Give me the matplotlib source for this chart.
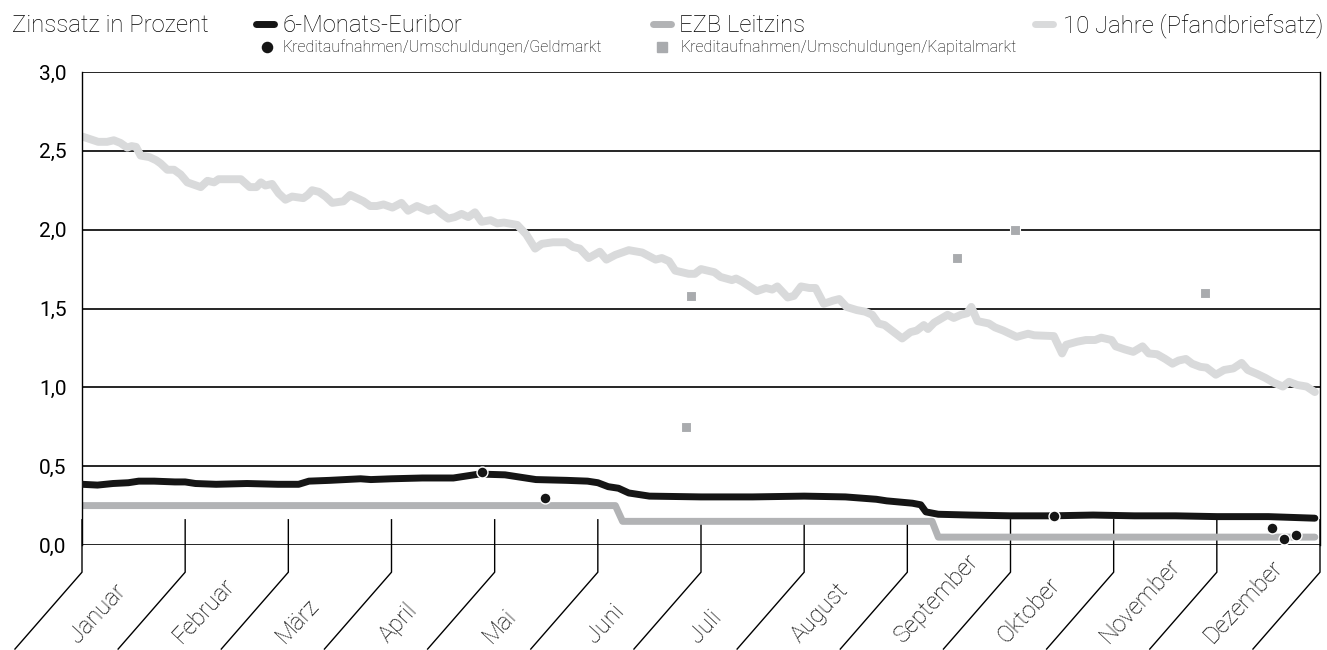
import math
import matplotlib
matplotlib.use("Agg")
import matplotlib.pyplot as plt
from matplotlib.lines import Line2D
from matplotlib import font_manager
import matplotlib.transforms as mtransforms

# ---------------- data ----------------
months = ["Januar", "Februar", "März", "April", "Mai", "Juni", "Juli",
          "August", "September", "Oktober", "November", "Dezember"]
yticks = [0.0, 0.5, 1.0, 1.5, 2.0, 2.5, 3.0]
ytick_labels = ["0,0", "0,5", "1,0", "1,5", "2,0", "2,5", "3,0"]

# x in months (0 = 1. Januar, 12 = 31. Dezember)
euribor_x = [0.0, 0.15, 0.3, 0.45, 0.55, 0.7, 0.9, 1.0, 1.1, 1.3, 1.6, 1.9, 2.1, 2.2,
             2.4, 2.7, 2.8, 3.0, 3.3, 3.6, 3.75, 3.85, 4.1, 4.25, 4.4, 4.7, 4.9, 5.0,
             5.1, 5.2, 5.3, 5.5, 6.0, 6.5, 7.0, 7.4, 7.7, 7.8, 8.05, 8.13, 8.18, 8.3,
             8.6, 9.0, 9.4, 9.8, 10.2, 10.6, 11.0, 11.5, 11.95]
euribor_y = [0.385, 0.38, 0.39, 0.395, 0.405, 0.405, 0.40, 0.40, 0.39, 0.385, 0.39,
             0.385, 0.385, 0.405, 0.41, 0.42, 0.415, 0.42, 0.425, 0.425, 0.44, 0.45,
             0.445, 0.43, 0.415, 0.41, 0.405, 0.395, 0.37, 0.36, 0.33, 0.31, 0.305,
             0.305, 0.31, 0.305, 0.29, 0.28, 0.265, 0.255, 0.21, 0.195, 0.19, 0.185,
             0.185, 0.19, 0.185, 0.185, 0.18, 0.18, 0.17]

ezb_x = [0.0, 5.17, 5.24, 8.24, 8.30, 11.95]
ezb_y = [0.25, 0.25, 0.15, 0.15, 0.05, 0.05]

pfand_x = [0.006, 0.157, 0.243, 0.308, 0.373, 0.438, 0.481, 0.524, 0.568, 0.654,
           0.719, 0.762, 0.827, 0.892, 0.956, 1.021, 1.108, 1.151, 1.216, 1.280,
           1.324, 1.540, 1.626, 1.691, 1.734, 1.777, 1.842, 1.907, 1.972, 2.037,
           2.145, 2.188, 2.231, 2.296, 2.361, 2.426, 2.534, 2.599, 2.663, 2.728,
           2.793, 2.858, 2.923, 3.009, 3.096, 3.161, 3.247, 3.355, 3.420, 3.485,
           3.550, 3.614, 3.679, 3.744, 3.809, 3.874, 3.960, 4.025, 4.090, 4.219,
           4.306, 4.392, 4.457, 4.565, 4.695, 4.760, 4.825, 4.911, 5.019, 5.083,
           5.170, 5.300, 5.430, 5.56, 5.62, 5.69, 5.75, 5.88, 5.94, 6.0, 6.13, 6.19,
           6.30, 6.34, 6.40, 6.54, 6.63, 6.69, 6.74, 6.84, 6.90, 6.97, 7.05, 7.11,
           7.19, 7.28, 7.34, 7.41, 7.51, 7.59, 7.66, 7.72, 7.78, 7.87, 7.95, 8.03,
           8.09, 8.16, 8.20, 8.26, 8.39, 8.45, 8.52, 8.58, 8.62, 8.68, 8.79, 8.85,
           8.93, 9.06, 9.17, 9.23, 9.42, 9.50, 9.54, 9.65, 9.73, 9.82, 9.88, 9.98,
           10.02, 10.11, 10.19, 10.28, 10.34, 10.42, 10.50, 10.57, 10.63, 10.70,
           10.76, 10.84, 10.90, 10.99, 11.07, 11.16, 11.24, 11.30, 11.39, 11.47,
           11.55, 11.64, 11.70, 11.78, 11.87, 11.95]
pfand_y = [2.59, 2.557, 2.557, 2.567, 2.55, 2.52, 2.53, 2.525, 2.47, 2.46,
           2.44, 2.42, 2.38, 2.38, 2.35, 2.30, 2.28, 2.27, 2.31, 2.30,
           2.32, 2.32, 2.27, 2.27, 2.30, 2.28, 2.29, 2.23, 2.19, 2.21,
           2.20, 2.22, 2.25, 2.24, 2.21, 2.17, 2.18, 2.22, 2.20, 2.18,
           2.15, 2.15, 2.16, 2.14, 2.17, 2.12, 2.15, 2.12, 2.135, 2.10,
           2.07, 2.08, 2.10, 2.08, 2.11, 2.05, 2.06, 2.04, 2.045, 2.03,
           1.97, 1.88, 1.91, 1.92, 1.92, 1.89, 1.88, 1.82, 1.86, 1.81,
           1.84, 1.87, 1.855, 1.81, 1.82, 1.80, 1.74, 1.72, 1.72, 1.75, 1.73, 1.70,
           1.68, 1.69, 1.67, 1.61, 1.63, 1.62, 1.64, 1.57, 1.58, 1.64, 1.63, 1.63,
           1.53, 1.55, 1.56, 1.51, 1.49, 1.48, 1.46, 1.405, 1.395, 1.35, 1.31, 1.35,
           1.36, 1.395, 1.37, 1.41, 1.46, 1.44, 1.46, 1.47, 1.51, 1.42, 1.405, 1.38,
           1.36, 1.32, 1.34, 1.33, 1.325, 1.215, 1.27, 1.29, 1.30, 1.30, 1.315, 1.30,
           1.26, 1.24, 1.225, 1.26, 1.215, 1.21, 1.18, 1.15, 1.17, 1.18,
           1.15, 1.13, 1.125, 1.08, 1.11, 1.12, 1.155, 1.11, 1.085, 1.06,
           1.03, 1.005, 1.035, 1.015, 1.005, 0.97]

geld_x = [3.88, 4.49, 9.42, 11.53, 11.65, 11.77]
geld_y = [0.465, 0.30, 0.185, 0.107, 0.035, 0.065]

kapital_x = [5.85, 5.90, 8.48, 9.04, 10.89]
kapital_y = [0.75, 1.58, 1.82, 2.00, 1.60]

# ---------------- font ----------------
fonts = font_manager.fontManager.ttflist
def has_light(name):
    for f in fonts:
        if f.name == name:
            w = f.weight
            if isinstance(w, str):
                if w.lower() in ("light", "extra light", "ultralight", "thin"):
                    return True
            elif w <= 300:
                return True
    return False

FAM, WEIGHT = "Liberation Sans", "normal"
for cand in ["Roboto", "Inter", "Lato", "Open Sans", "Noto Sans"]:
    if has_light(cand):
        FAM, WEIGHT = cand, "light"
        break
plt.rcParams['font.family'] = [FAM, 'DejaVu Sans']
plt.rcParams['font.weight'] = WEIGHT

C_EUR = "#151515"
C_EZB = "#b2b3b5"
C_PF = "#d9dadb"
C_SQ = "#a9abae"

W, H = 1327, 650
fig = plt.figure(figsize=(W / 100, H / 100), dpi=100)
left, right, top, bottom = 82, 1320, 72, 545
ax = fig.add_axes([left / W, 1 - bottom / H, (right - left) / W, (bottom - top) / H])
ax.set_xlim(0, 12)
ax.set_ylim(0, 3.0)

for v in yticks:
    ax.axhline(v, color="black", lw=1.2, zorder=1)
for s in ["left", "right"]:
    ax.spines[s].set_linewidth(1.0)
for s in ["top", "bottom"]:
    ax.spines[s].set_visible(False)

ax.set_yticks(yticks)
ax.set_yticklabels(ytick_labels, fontsize=15, fontweight="normal")
ax.tick_params(axis="y", length=0, pad=11)
ax.set_xticks([])

ax.plot(ezb_x, ezb_y, color=C_EZB, lw=5, solid_capstyle="round", solid_joinstyle="round", zorder=2)
ax.plot(pfand_x, pfand_y, color=C_PF, lw=5.7, solid_capstyle="round", solid_joinstyle="round", zorder=2)
ax.plot(euribor_x, euribor_y, color=C_EUR, lw=5, solid_capstyle="round", solid_joinstyle="round", zorder=3)
ax.scatter(kapital_x, kapital_y, marker="s", s=52, color=C_SQ, edgecolors="white", linewidths=0.8, zorder=4)
ax.scatter(geld_x, geld_y, marker="o", s=62, color=C_EUR, edgecolors="white", linewidths=1.0, zorder=5)

# month separators: vertical tick, then a slanted line
SLANT_DX, Y_KNEE, Y_END = -0.65, -0.1725, -0.66
for m in range(13):
    ax.plot([m, m, m + SLANT_DX], [0.16, Y_KNEE, Y_END], color="black", lw=1.0,
            clip_on=False, zorder=1)

# month labels: centred on the middle line of each slanted band,
# with the start of the text resting near the bottom edge
renderer = fig.canvas.get_renderer()
ROT = 47.0
FS_MONTH = 17
px_per_month = ax.transData.transform((1, 0))[0] - ax.transData.transform((0, 0))[0]
knee_disp = ax.transData.transform((0, Y_KNEE))[1]
end_disp = ax.transData.transform((0, Y_END))[1]
slope = (SLANT_DX * px_per_month) / (end_disp - knee_disp)   # dx per dy (display)
base_y = 5.0  # display y (pixels from bottom) of the start of the text
for i, name in enumerate(months):
    t = fig.text(0, 0, name, fontsize=FS_MONTH)
    L = t.get_window_extent(renderer).width
    t.remove()
    th = math.radians(ROT)
    hcap = 0.72 * FS_MONTH * 100 / 72
    yc = base_y + (L / 2) * math.sin(th) + (hcap / 2) * math.cos(th)
    x_mid = ax.transData.transform((i + 0.5, 0))[0]
    xc = x_mid + (yc - knee_disp) * slope
    fig.text(xc, yc, name, fontsize=FS_MONTH, rotation=ROT, ha="center", va="center",
             rotation_mode="anchor", transform=mtransforms.IdentityTransform())

# ---------------- legend ----------------
def fy(py):
    return 1 - py / H

def fx(px):
    return px / W

FS_LEG = 17.2
fig.text(fx(12), fy(32.3), "Zinssatz in Prozent", fontsize=FS_LEG, va="baseline", ha="left")
legend_lines = [(253, 283, "6-Monats-Euribor", C_EUR), (650, 679, "EZB Leitzins", C_EZB),
                (1032, 1063, "10 Jahre (Pfandbriefsatz)", C_PF)]
for x0, xt, label, col in legend_lines:
    fig.add_artist(Line2D([fx(x0 + 3), fx(x0 + 21)], [fy(24), fy(24)], color=col, lw=5,
                          solid_capstyle="round", transform=fig.transFigure))
    fig.text(fx(xt), fy(32.3), label, fontsize=FS_LEG, va="baseline", ha="left")

fig.add_artist(Line2D([fx(267)], [fy(46.5)], marker="o", markersize=7.3, color=C_EUR,
                      linestyle="none", transform=fig.transFigure))
fig.text(fx(283), fy(52), "Kreditaufnahmen/Umschuldungen/Geldmarkt", fontsize=11.5,
         va="baseline", ha="left")
fig.add_artist(Line2D([fx(662)], [fy(46.5)], marker="s", markersize=7, color=C_SQ,
                      linestyle="none", transform=fig.transFigure))
fig.text(fx(680), fy(52), "Kreditaufnahmen/Umschuldungen/Kapitalmarkt", fontsize=11.5,
         va="baseline", ha="left")

fig.savefig("out.png", dpi=100)
